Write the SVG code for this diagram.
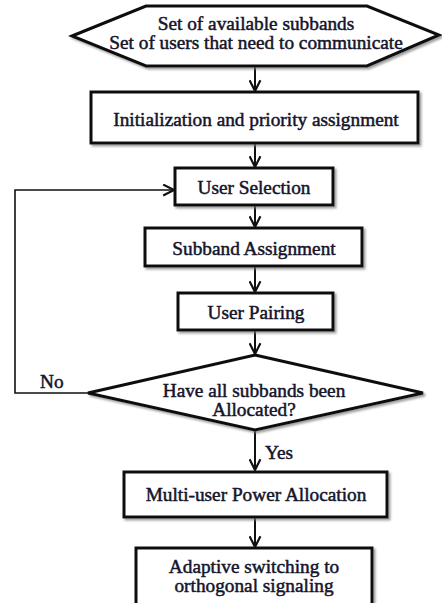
<svg xmlns="http://www.w3.org/2000/svg" width="442" height="603" viewBox="0 0 442 603">
<defs>
<style>
.box{fill:#fff;stroke:#111;stroke-width:3;filter:url(#sh)}
.t{font-family:"Liberation Serif","Times New Roman",serif;font-size:19.3px;fill:#14142a;stroke:#14142a;stroke-width:0.5;text-anchor:middle}
.lbl{font-family:"Liberation Serif","Times New Roman",serif;font-size:19.3px;fill:#14142a;stroke:#14142a;stroke-width:0.5}
.c{fill:none;stroke:#111;stroke-width:2}
.loop{fill:none;stroke:#111;stroke-width:1.6}
</style>
<filter id="sh" x="-10%" y="-10%" width="120%" height="130%">
<feDropShadow dx="2" dy="2" stdDeviation="1" flood-color="#777" flood-opacity="0.7"/>
</filter>
<marker id="ah" viewBox="0 0 12 12" refX="11" refY="6" markerWidth="13" markerHeight="13" markerUnits="userSpaceOnUse" orient="auto">
<path d="M1,1 L11,6 L1,11" fill="none" stroke="#111" stroke-width="2"/>
</marker>
</defs>
<rect width="442" height="603" fill="#fff"/>
<g id="connectors">
<line class="c" x1="255" y1="67" x2="255" y2="91" marker-end="url(#ah)"/>
<line class="c" x1="255" y1="144" x2="255" y2="167" marker-end="url(#ah)"/>
<line class="c" x1="255" y1="206" x2="255" y2="227" marker-end="url(#ah)"/>
<line class="c" x1="255" y1="267" x2="255" y2="292" marker-end="url(#ah)"/>
<line class="c" x1="255" y1="331" x2="255" y2="354" marker-end="url(#ah)"/>
<line class="c" x1="255" y1="430" x2="255" y2="470" marker-end="url(#ah)"/>
<line class="c" x1="255" y1="518" x2="255" y2="547" marker-end="url(#ah)"/>
<polyline class="loop" points="88,393 15,393 15,190 174,190" marker-end="url(#ah)"/>
<text class="lbl" x="40" y="388">No</text>
<text class="lbl" x="265" y="459">Yes</text>
</g>
<g id="n-input">
<polygon class="box" points="72,36 146,6 367,6 439,35 367,66 146,66"/>
<text class="t" x="256" y="30">Set of available subbands</text>
<text class="t" x="256" y="49">Set of users that need to communicate</text>
</g>
<g id="n-init">
<rect class="box" x="91" y="92" width="327" height="51"/>
<text class="t" x="256" y="126">Initialization and priority assignment</text>
</g>
<g id="n-usersel">
<rect class="box" x="175" y="168" width="158" height="37"/>
<text class="t" x="254" y="194">User Selection</text>
</g>
<g id="n-subband">
<rect class="box" x="145" y="228" width="217" height="38"/>
<text class="t" x="254" y="255">Subband Assignment</text>
</g>
<g id="n-pairing">
<rect class="box" x="178" y="293" width="155" height="37"/>
<text class="t" x="256" y="319">User Pairing</text>
</g>
<g id="n-decision">
<polygon class="box" points="255,355 423,393 255,430 88,393"/>
<text class="t" x="254" y="397">Have all subbands been</text>
<text class="t" x="254" y="416">Allocated?</text>
</g>
<g id="n-power">
<rect class="box" x="124" y="472" width="263" height="45"/>
<text class="t" x="256" y="501">Multi-user Power Allocation</text>
</g>
<g id="n-adaptive">
<rect class="box" x="136" y="548" width="236" height="62"/>
<text class="t" x="254" y="573">Adaptive switching to</text>
<text class="t" x="254" y="592">orthogonal signaling</text>
</g>
</svg>
